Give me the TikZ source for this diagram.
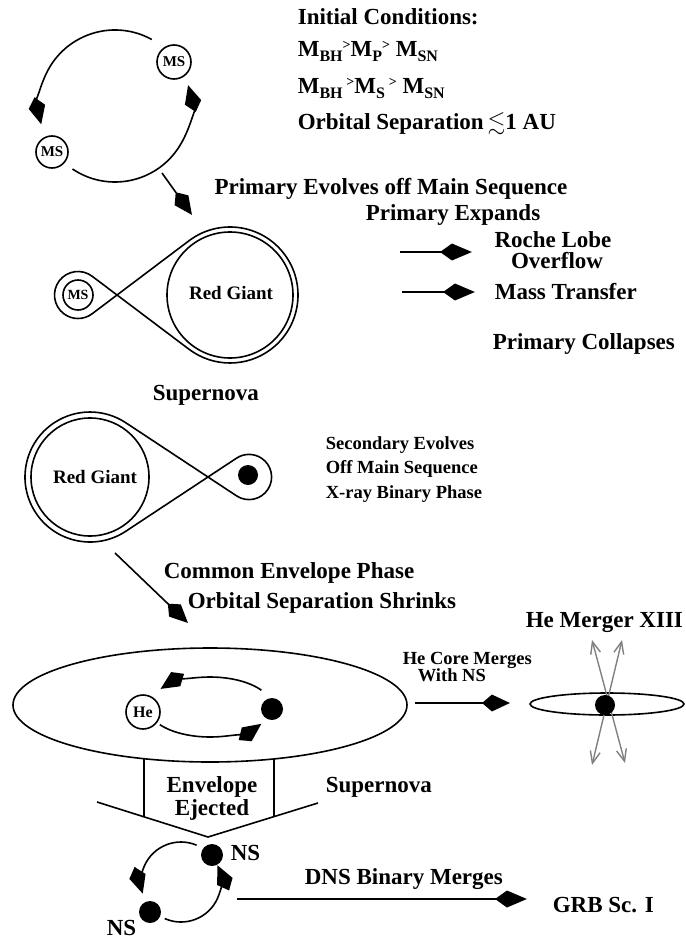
\documentclass[tikz,border=0pt]{standalone}
\usepackage{fontspec}
\setmainfont{Liberation Serif}
\usepackage{amssymb}
\usetikzlibrary{arrows.meta}
\newcommand\fsz[1]{\fontsize{#1}{#1}\selectfont}
\newcommand\sbs[1]{\raisebox{-5pt}{\fsz{16}#1}}
\newcommand\gtsym{\raisebox{7pt}{\fsz{14}>}}
\begin{document}
\begin{tikzpicture}[x=1pt,y=1pt,line width=1.6pt,
  txt/.style={inner sep=0pt,font=\bfseries\fsz{23}},
  stxt/.style={inner sep=0pt,font=\bfseries\fsz{18.5}},
  karr/.style={-{Stealth[length=18pt,width=16pt,inset=-10pt]}},
  lkarr/.style={-{Stealth[length=20pt,width=16pt,inset=-12pt]}},
  star/.style={circle,draw,inner sep=0pt,font=\bfseries\fsz{15}},
  blob/.style={circle,fill,inner sep=0pt},
  grayarr/.style={draw=gray,line width=1.4pt,<->,>={Straight Barb[length=12pt,width=10pt]}}]
\useasboundingbox (0,0) rectangle (685,-939);

% ---------- initial binary ----------
\node[star,minimum size=34pt] (ms1) at (174,-62) {MS};
\node[star,minimum size=32pt] (ms2) at (52,-152) {MS};
\draw[karr] ([shift={(115,-106)}]61:76) arc[start angle=61,end angle=194,radius=76];
\draw[karr] ([shift={(115,-106)}]236:76) arc[start angle=236,end angle=376,radius=76];
\coordinate (a1s) at (162,-173);
\coordinate (a1e) at (192,-215);
\draw[karr] (a1s) -- (a1e);

\node[txt,anchor=base west] (ic) at (297,-25) {Initial Conditions:};
\node[txt,anchor=base west] (m1) at (297,-57) {M\sbs{BH}\gtsym M\sbs{P}\gtsym\ M\sbs{SN}};
\node[txt,anchor=base west] (m2) at (297,-94) {M\sbs{BH}\,\gtsym M\sbs{S}\,\gtsym\ M\sbs{SN}};
\node[txt,anchor=base west] (os) at (297,-129) {Orbital Separation\,$\lesssim$1 AU};

% ---------- first Roche lobe ----------
\node[txt,anchor=base east] (pe) at (568,-194) {Primary Evolves off Main Sequence};
\node[txt,anchor=base] (px) at (453,-220) {Primary Expands};
\node[txt,anchor=base] (rl) at (553,-247) {Roche Lobe};
\node[txt,anchor=base] (ov) at (557,-268) {Overflow};
\node[txt,anchor=base west] (mt) at (494,-299) {Mass Transfer};
\node[txt,anchor=base west] (pc) at (492,-349) {Primary Collapses};
\coordinate (r1s) at (400,-252);
\coordinate (r1e) at (472,-252);
\coordinate (r2s) at (402,-292);
\coordinate (r2e) at (475,-292);
\draw[lkarr] (r1s) -- (r1e);
\draw[lkarr] (r2s) -- (r2e);

\draw ([shift={(78,-295)}]-53:23.5) -- ([shift={(230,-295)}]127:68)
  arc[start angle=127,end angle=-127,radius=68]
  -- ([shift={(78,-295)}]53:23.5)
  arc[start angle=53,end angle=307,radius=23.5] -- cycle;
\node[circle,draw,minimum size=126pt,inner sep=0pt] (rg1) at (230,-295) {};
\node[inner sep=0pt,font=\bfseries\fsz{19}] (rg1t) at (231,-293) {Red Giant};
\node[star,minimum size=30pt,font=\bfseries\fsz{14}] (ms3) at (78,-295) {MS};

% ---------- second Roche lobe ----------
\node[txt,anchor=base west] (sn1) at (152,-400) {Supernova};
\draw ([shift={(90,-477)}]56.6:65) -- ([shift={(249,-477)}]236.6:22.6)
  arc[start angle=236.6,end angle=483.4,radius=22.6]
  -- ([shift={(90,-477)}]-56.6:65)
  arc[start angle=-56.6,end angle=-303.4,radius=65] -- cycle;
\node[circle,draw,minimum size=118pt,inner sep=0pt] (rg2) at (90,-477) {};
\node[inner sep=0pt,font=\bfseries\fsz{19}] (rg2t) at (95,-477) {Red Giant};
\node[blob,minimum size=20pt] (ns0) at (248,-475) {};
\node[stxt,anchor=base west] (se1) at (325,-449) {Secondary Evolves};
\node[stxt,anchor=base west] (se2) at (325,-473) {Off Main Sequence};
\node[stxt,anchor=base west] (se3) at (325,-498) {X-ray Binary Phase};

\coordinate (a2s) at (115,-553);
\coordinate (a2e) at (188,-623);
\draw[karr] (a2s) -- (a2e);
\node[txt,anchor=base west] (ce) at (163,-578) {Common Envelope Phase};
\node[txt,anchor=base west] (oss) at (187,-608) {Orbital Separation Shrinks};

% ---------- common envelope ----------
\draw (210,-705) ellipse[x radius=197,y radius=57];
\node[star,minimum size=34pt,font=\bfseries\fsz{16}] (he) at (143,-712) {He};
\node[blob,minimum size=22pt] (ns1) at (272,-709) {};
\draw[karr] ([shift={(210,-707)}]34:62 and 30) arc[start angle=34,end angle=143,x radius=62,y radius=30];
\draw[karr] ([shift={(210,-707)}]216:62 and 30) arc[start angle=216,end angle=326,x radius=62,y radius=30];

\node[stxt,anchor=base west] (hc1) at (402,-664) {He Core Merges};
\node[stxt,anchor=base west] (hc2) at (417,-681) {With NS};
\coordinate (h1s) at (415,-703);
\coordinate (h1e) at (510,-703);
\draw[karr] (h1s) -- (h1e);

% ---------- He merger ----------
\node[txt,anchor=base west] (hm) at (525,-627) {He Merger XIII};
\draw (607,-704) ellipse[x radius=77,y radius=11];
\coordinate (g1a) at (592,-640);
\coordinate (g1b) at (625,-763);
\coordinate (g2a) at (622,-640);
\coordinate (g2b) at (592,-765);
\draw[grayarr] (g1a) -- (g1b);
\draw[grayarr] (g2a) -- (g2b);
\node[blob,minimum size=20pt] (md) at (605,-705) {};

% ---------- envelope ejection ----------
\coordinate (v1) at (97,-802);
\coordinate (v2) at (208,-837);
\coordinate (v3) at (318,-803);
\draw (v1) -- (v2) -- (v3);
\coordinate (b1t) at (144,-759);
\coordinate (b1b) at (144,-817);
\coordinate (b2t) at (274,-759);
\coordinate (b2b) at (274,-816.6);
\draw (b1t) -- (b1b);
\draw (b2t) -- (b2b);
\node[txt,anchor=base] (ee1) at (212,-792) {Envelope};
\node[txt,anchor=base] (ee2) at (212,-815) {Ejected};
\node[txt,anchor=base west] (sn2) at (325,-792) {Supernova};

% ---------- double neutron star ----------
\node[blob,minimum size=22pt] (nsa) at (212,-855) {};
\node[blob,minimum size=22pt] (nsb) at (150,-912) {};
\node[txt,anchor=base west] (nsat) at (230,-860) {NS};
\node[txt,anchor=base west] (nsbt) at (106,-935) {NS};
\draw[karr] ([shift={(181,-882)}]67:40) arc[start angle=67,end angle=197,radius=40];
\draw[karr] ([shift={(181,-882)}]246:40) arc[start angle=246,end angle=385,radius=40];
\coordinate (d1s) at (237,-899);
\coordinate (d1e) at (527,-899);
\draw[lkarr] (d1s) -- (d1e);
\node[txt,anchor=base west] (dns) at (304,-884) {DNS Binary Merges};
\node[txt,anchor=base west] (grb) at (552,-912) {GRB Sc. I};
\end{tikzpicture}
\end{document}
